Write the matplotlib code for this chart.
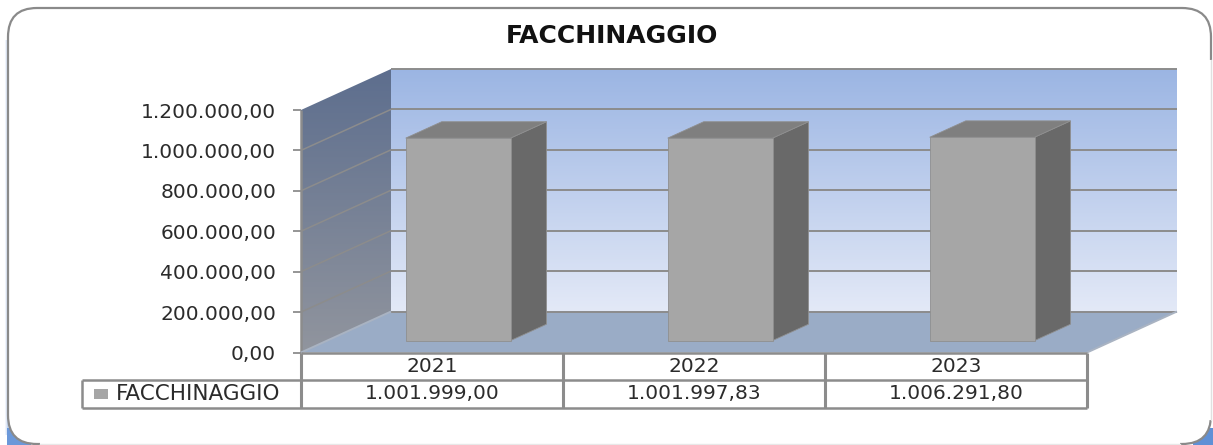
import numpy as np
import matplotlib
matplotlib.use('Agg')
import matplotlib.pyplot as plt
from matplotlib.patches import FancyBboxPatch, Polygon, Rectangle
from matplotlib.transforms import IdentityTransform

years = ['2021', '2022', '2023']
values = [1001999.00, 1001997.83, 1006291.80]
yticks = [0, 200000, 400000, 600000, 800000, 1000000, 1200000]
series_name = 'FACCHINAGGIO'
title = 'FACCHINAGGIO'

W, H = 1213, 445
TXT = '#2b2b2b'
LINE = '#8c8c8c'
FS = 14.5

def it_fmt(v):
    # italian number format 1.000,00
    return f'{v:,.2f}'.replace(',', 'X').replace('.', ',').replace('X', '.')

fig = plt.figure(figsize=(W / 100, H / 100), dpi=100)
fig.patch.set_facecolor('white')

# background axes in pixels for the rounded frame
bg = fig.add_axes([0, 0, 1, 1], zorder=0)
bg.set_xlim(0, W)
bg.set_ylim(H, 0)
bg.axis('off')
# soft blue glow on the left edge
for off, col in [(3, '#f0f4fb'), (2, '#dfe8f6'), (1, '#c3d4ee')]:
    bg.add_patch(Rectangle((8 - off, 40), 10, 395, fc=col, ec='none'))
# blue shows only in the bottom corners
bg.add_patch(Rectangle((7, 428), 24, 17, fc='#6b98d9', ec='none'))
bg.add_patch(Rectangle((1193, 428), 20, 17, fc='#5f90d6', ec='none'))
bg.add_patch(FancyBboxPatch((8, 8), 1203, 436, boxstyle='round,pad=0,rounding_size=29',
                            fc='white', ec='#8a8a8a', lw=1.6))
# right and bottom edges are nearly invisible in the lower part
bg.add_patch(Rectangle((40, 442), 1140, 3, fc='white', ec='none'))
bg.add_patch(Rectangle((1208, 60), 5, 360, fc='white', ec='none'))
bg.plot([40, 1180], [444, 444], color='#e8e8e8', lw=1)
bg.plot([1211, 1211], [60, 420], color='#e0e0e0', lw=1)

# main axes: front plane of the chart
x0, x1 = 301, 1087
ytop, ybot = 110, 352.5
ax = fig.add_axes([x0 / W, 1 - ybot / H, (x1 - x0) / W, (ybot - ytop) / H], zorder=1)
ax.set_xlim(0, 3)
ax.set_ylim(0, 1200000)
ax.patch.set_alpha(0)
for s in ax.spines.values():
    s.set_visible(False)

DX, DY = 90, 41  # depth of the box in pixels

def pt(x, y, f=0.0):
    p = ax.transData.transform((x, y))
    return (p[0] + f * DX, p[1] + f * DY)

def poly(pts, **kw):
    kw.setdefault('lw', 0)
    ax.add_patch(Polygon(pts, closed=True, transform=IdentityTransform(), clip_on=False, **kw))

def line(a, b, col=LINE, lw=1.4, z=3):
    ax.plot([a[0], b[0]], [a[1], b[1]], color=col, lw=lw, transform=IdentityTransform(),
            clip_on=False, zorder=z, solid_capstyle='butt')

def grad_poly(pts, c_top, c_bot, z=1):
    # vertical gradient clipped to a polygon, in display pixels
    c_top = np.array(matplotlib.colors.to_rgb(c_top))
    c_bot = np.array(matplotlib.colors.to_rgb(c_bot))
    t = np.linspace(0, 1, 256)[:, None, None]
    img = c_top[None, None, :] * (1 - t) + c_bot[None, None, :] * t
    xs = [p[0] for p in pts]
    ys = [p[1] for p in pts]
    im = ax.imshow(img, extent=(min(xs), max(xs), min(ys), max(ys)), origin='upper', aspect='auto',
                   transform=IdentityTransform(), zorder=z)
    clip = Polygon(pts, closed=True, transform=IdentityTransform())
    im.set_clip_box(fig.bbox)
    im.set_clip_path(clip)
    ax.set_xlim(0, 3)
    ax.set_ylim(0, 1200000)

ymax = yticks[-1]
# back wall
grad_poly([pt(0, 0, 1), pt(3, 0, 1), pt(3, ymax, 1), pt(0, ymax, 1)], '#9bb5e3', '#e3e9f7')
# left wall
grad_poly([pt(0, 0), pt(0, 0, 1), pt(0, ymax, 1), pt(0, ymax)], '#5d6e8e', '#91959e')
# floor
poly([pt(0, 0), pt(3, 0), pt(3, 0, 1), pt(0, 0, 1)], fc='#9aacc6', zorder=2)

# gridlines go along both walls
for v in yticks:
    if 0 < v < ymax:
        line(pt(0, v), pt(0, v, 1), lw=1.1)
    line(pt(0, v, 1), pt(3, v, 1))
line(pt(0, 0), pt(0, ymax), lw=1.8)
line(pt(0, 0), pt(0, 0, 1), col='#a9b3c2')
line(pt(3, 0), pt(3, 0, 1), col='#a9b3c2')

# bars, side and top first then the front face
bar_w = 0.4
f_a, f_b = 0.29, 0.69
for i, v in enumerate(values):
    l, r = i + 0.5 - bar_w / 2, i + 0.5 + bar_w / 2
    ec = dict(ec='#8f8f8f', lw=0.6, zorder=5)
    poly([pt(r, 0, f_a), pt(r, 0, f_b), pt(r, v, f_b), pt(r, v, f_a)], fc='#696969', **ec)
    poly([pt(l, v, f_a), pt(r, v, f_a), pt(r, v, f_b), pt(l, v, f_b)], fc='#7f7f7f', **ec)
    poly([pt(l, 0, f_a), pt(r, 0, f_a), pt(r, v, f_a), pt(l, v, f_a)], fc='#a6a6a6', **ec)

# y axis
ax.set_yticks(yticks, [it_fmt(v) for v in yticks], fontsize=FS, color=TXT)
ax.tick_params(axis='y', length=6, width=1.3, color=LINE, pad=12)
ax.set_xticks([])

# data table under the chart
rows = [0, -27.5, -55.5]
for r in rows:
    a = pt(0, 0)
    b = pt(3, 0)
    line((a[0] if r == 0 else a[0] - 219, a[1] + r), (b[0], b[1] + r), lw=1.8)
for i in range(4):
    a = pt(i, 0)
    line(a, (a[0], a[1] - 55.5), lw=2.2)
a = pt(0, 0)
line((a[0] - 219, a[1] - 27.5), (a[0] - 219, a[1] - 55.5), lw=1.8)
poly([(a[0] - 207, a[1] - 36), (a[0] - 193, a[1] - 36), (a[0] - 193, a[1] - 46), (a[0] - 207, a[1] - 46)],
     fc='#a6a6a6')
ax.annotate(series_name, xy=(0, 0), xytext=(-185, -41), textcoords='offset pixels', fontsize=15.5,
            color=TXT, ha='left', va='center', annotation_clip=False)
for i in range(3):
    ax.annotate(years[i], xy=(i + 0.5, 0), xytext=(0, -14), textcoords='offset pixels', fontsize=FS,
                color=TXT, ha='center', va='center', annotation_clip=False)
    ax.annotate(it_fmt(values[i]), xy=(i + 0.5, 0), xytext=(0, -41), textcoords='offset pixels', fontsize=FS,
                color=TXT, ha='center', va='center', annotation_clip=False)

fig.text(612 / W, 1 - 36 / H, title, fontsize=18, fontweight='bold', color='#111111', ha='center', va='center')

fig.savefig('out.png', dpi=100)
